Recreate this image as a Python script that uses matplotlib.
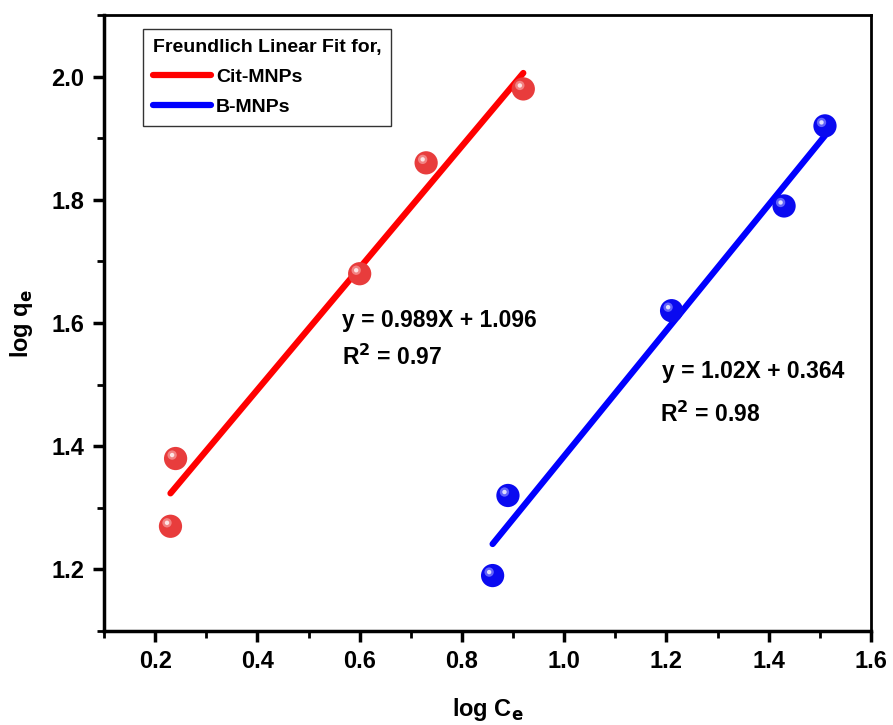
import matplotlib
matplotlib.use("Agg")
import matplotlib.pyplot as plt
import matplotlib.transforms as mtransforms
from matplotlib.ticker import MultipleLocator
import numpy as np

plt.rcParams['font.family'] = ['Liberation Sans', 'DejaVu Sans']
plt.rcParams['font.weight'] = 'bold'

# Data
cit_x = [0.23, 0.24, 0.60, 0.73, 0.92]
cit_y = [1.27, 1.38, 1.68, 1.86, 1.98]
b_x = [0.86, 0.89, 1.21, 1.43, 1.51]
b_y = [1.19, 1.32, 1.62, 1.79, 1.92]
cit_fit = (0.989, 1.096)
b_fit = (1.02, 0.364)
series_names = ["Cit-MNPs", "B-MNPs"]
xticks = [0.2, 0.4, 0.6, 0.8, 1.0, 1.2, 1.4, 1.6]
yticks = [1.2, 1.4, 1.6, 1.8, 2.0]

fig = plt.figure(figsize=(8.93, 7.25), dpi=100)
ax = fig.add_axes([104/893, 94/725, (871-104)/893, (631-15)/725])

def sphere(x, y, color, hl):
    ax.scatter(x, y, s=280, color=color, zorder=4, edgecolors='none')
    off = mtransforms.ScaledTranslation(-2.5/72, 2.5/72, fig.dpi_scale_trans)
    ax.scatter(x, y, s=45, color=hl, zorder=5, edgecolors='none',
               transform=ax.transData + off, alpha=0.7)
    ax.scatter(x, y, s=10, color='white', zorder=6, edgecolors='none',
               transform=ax.transData + off, alpha=0.8)

# fit lines
cx = np.array([min(cit_x), max(cit_x)])
bx = np.array([min(b_x), max(b_x)])
ax.plot(cx, cit_fit[0]*cx + cit_fit[1], color='#ff0000', lw=4.5,
        solid_capstyle='round', zorder=3, label=series_names[0])
ax.plot(bx, b_fit[0]*bx + b_fit[1], color='#0000ff', lw=4.5,
        solid_capstyle='round', zorder=3, label=series_names[1])

sphere(cit_x, cit_y, '#e83c3c', '#f7a0a0')
sphere(b_x, b_y, '#0a0af0', '#8a8aff')

ax.set_xlim(0.1, 1.6)
ax.set_ylim(1.1, 2.1)
ax.set_xticks(xticks)
ax.set_yticks(yticks)
ax.set_xticklabels([f"{v:.1f}" for v in xticks])
ax.set_yticklabels([f"{v:.1f}" for v in yticks])
ax.xaxis.set_minor_locator(MultipleLocator(0.1))
ax.yaxis.set_minor_locator(MultipleLocator(0.1))
ax.tick_params(which='major', direction='out', length=8, width=2.5,
               labelsize=17, pad=6)
ax.tick_params(which='minor', direction='out', length=5, width=2)
ax.tick_params(top=False, right=False, which='both')
for lab in ax.get_xticklabels() + ax.get_yticklabels():
    lab.set_fontweight('bold')

for s in ['left', 'bottom']:
    ax.spines[s].set_linewidth(2.5)
for s in ['top', 'right']:
    ax.spines[s].set_linewidth(2.0)

ax.set_xlabel(r"log C$_\mathbf{e}$", fontsize=17, fontweight='bold', labelpad=16)
ax.set_ylabel(r"log q$_\mathbf{e}$", fontsize=17, fontweight='bold', labelpad=12)

ax.text(0.565, 1.604, "y = 0.989X + 1.096", fontsize=16.5, fontweight='bold',
        va='center', ha='left')
ax.text(0.565, 1.544, r"R$^\mathbf{2}$ = 0.97", fontsize=16.5, fontweight='bold',
        va='center', ha='left')
ax.text(1.192, 1.521, "y = 1.02X + 0.364", fontsize=16.5, fontweight='bold',
        va='center', ha='left')
ax.text(1.188, 1.451, r"R$^\mathbf{2}$ = 0.98", fontsize=16.5, fontweight='bold',
        va='center', ha='left')

leg = ax.legend(loc='upper left', bbox_to_anchor=(39/767, 1 - 14/616),
                title="Freundlich Linear Fit for,", alignment='left',
                title_fontproperties={'weight': 'bold', 'size': 14},
                prop={'weight': 'bold', 'size': 14},
                frameon=True, fancybox=False, edgecolor='black',
                handlelength=3.0, handletextpad=0.25, borderpad=0.5,
                labelspacing=0.65, borderaxespad=0)
leg.get_frame().set_linewidth(1.0)

fig.savefig("out.png", dpi=100)
